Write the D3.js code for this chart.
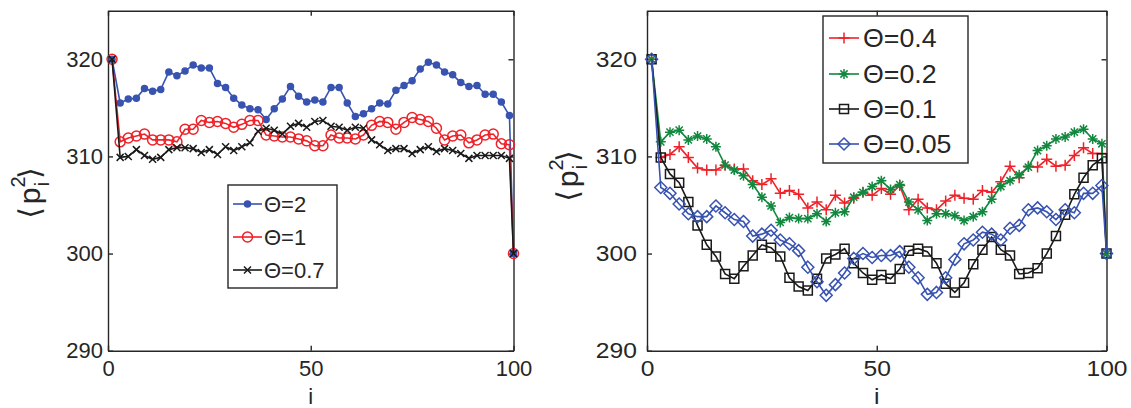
<!DOCTYPE html>
<html>
<head>
<meta charset="utf-8">
<script src="https://cdnjs.cloudflare.com/ajax/libs/d3/7.8.5/d3.min.js"></script>
<style>
  body { margin: 0; background: #fff; }
  text { font-family: "Liberation Sans", Arial, Helvetica, sans-serif; fill: #262626; }
</style>
</head>
<body>
<div id="chart"></div>
<script>
// site index i (markers every other site, plus the last one)
var iValues = [1, 3, 5, 7, 9, 11, 13, 15, 17, 19, 21, 23, 25, 27, 29, 31, 33, 35, 37, 39, 41, 43, 45, 47, 49,
  51, 53, 55, 57, 59, 61, 63, 65, 67, 69, 71, 73, 75, 77, 79, 81, 83, 85, 87, 89, 91, 93, 95, 97, 99, 100];

// left panel
var theta2 = [320, 315.5, 315.9, 316.0, 317.0, 316.7, 316.9, 318.7, 318.3, 318.8, 319.4, 319.1, 319.1, 317.5, 317.1,
  316.0, 315.3, 314.9, 314.8, 313.8, 314.9, 315.9, 317.2, 316.2, 315.6, 315.8, 315.6, 317.1, 317.1, 315.5, 314.1,
  314.4, 314.9, 315.5, 315.4, 316.8, 317.3, 317.8, 319.0, 319.7, 319.4, 318.7, 318.4, 317.6, 317.2, 317.3, 316.4,
  316.4, 315.6, 314.2, 300];
var theta1 = [320, 311.5, 311.9, 312.1, 312.3, 311.7, 311.7, 311.7, 311.5, 312.8, 312.8, 313.7, 313.5, 313.6, 313.4,
  313.0, 313.3, 313.7, 313.7, 312.2, 312.1, 312.0, 312.0, 311.8, 311.6, 311.1, 311.1, 312.2, 311.9, 311.9, 311.8,
  312.2, 313.2, 313.6, 313.5, 312.8, 313.5, 314.0, 313.8, 313.6, 312.9, 311.7, 312.1, 312.2, 311.4, 311.7, 312.2,
  312.3, 311.3, 311.2, 300];
var theta07 = [320, 309.9, 310.0, 310.7, 310.1, 309.7, 309.9, 310.7, 310.9, 310.9, 310.8, 310.4, 310.7, 310.2, 311.0,
  310.6, 311.0, 311.4, 312.6, 312.9, 312.7, 312.3, 313.1, 313.4, 313.0, 313.6, 313.7, 313.1, 313.0, 312.7, 313.0,
  312.9, 311.7, 311.2, 310.6, 310.8, 310.8, 310.3, 310.7, 311.0, 310.5, 310.8, 310.6, 310.3, 309.8, 310.1, 310.1,
  310.1, 310.1, 309.8, 300];

// right panel
var theta04 = [320, 309.9, 310.2, 311.0, 309.9, 308.8, 308.6, 308.6, 309.1, 308.7, 308.7, 307.5, 307.1, 307.7, 306.2,
  306.5, 306.1, 304.7, 305.3, 304.5, 306.0, 305.2, 305.7, 306.3, 306.0, 306.7, 306.1, 307.0, 304.5, 305.6, 304.7,
  304.5, 305.4, 306.0, 305.7, 305.6, 306.5, 306.3, 307.4, 309.0, 307.8, 309.0, 308.9, 309.7, 309.0, 309.1, 310.1,
  310.9, 310.3, 310.3, 300];
var theta02 = [320, 311.5, 312.5, 312.7, 311.7, 312.1, 311.8, 311.0, 309.1, 308.6, 308.0, 307.1, 305.8, 304.9, 303.2,
  303.7, 303.6, 303.6, 304.1, 303.3, 304.2, 304.3, 305.8, 306.3, 306.9, 307.5, 306.6, 307.1, 305.3, 304.5, 303.4,
  304.1, 304.1, 303.9, 303.4, 303.8, 304.3, 305.6, 306.9, 307.5, 308.1, 308.9, 310.6, 311.1, 311.8, 312.0, 312.5,
  312.8, 311.8, 311.3, 300];
var theta01 = [320, 309.9, 308.2, 307.3, 305.3, 302.9, 300.9, 299.7, 297.9, 297.4, 298.7, 299.8, 300.9, 300.6, 299.7,
  297.5, 296.6, 296.2, 297.4, 299.5, 299.9, 300.5, 299.0, 298.0, 297.3, 297.8, 297.4, 298.4, 300.3, 300.5, 300.2,
  299.0, 296.9, 296.0, 297.0, 298.9, 300.4, 301.7, 300.4, 299.8, 297.9, 298.0, 298.5, 300.0, 301.8, 304.0, 306.1,
  307.8, 309.1, 309.8, 300];
var theta005 = [320, 306.8, 306.2, 305.1, 304.1, 303.8, 303.8, 304.9, 304.2, 303.5, 303.3, 301.8, 302.0, 302.4, 301.4,
  301.0, 300.3, 298.6, 297.1, 295.7, 296.8, 298.0, 299.5, 300.0, 299.6, 299.8, 299.8, 300.2, 298.6, 297.5, 295.8,
  296.0, 297.5, 299.4, 301.0, 301.4, 302.2, 302.0, 301.4, 302.6, 302.9, 304.5, 304.7, 304.3, 303.5, 304.5, 304.2,
  306.2, 306.2, 307.0, 300];

var leftLabels = ["\u0398=2", "\u0398=1", "\u0398=0.7"];
var rightLabels = ["\u0398=0.4", "\u0398=0.2", "\u0398=0.1", "\u0398=0.05"];
var xTicks = [0, 50, 100];
var yTicks = [290, 300, 310, 320];

var axisColor = "#262626";
var blue = "#3853b0", red = "#ee2229", black = "#1a1a1a", green = "#12883f";

var svg = d3.select("#chart").append("svg")
  .attr("width", 1131)
  .attr("height", 408);

// marker shapes, centred at 0,0
function markerPath(type, s) {
  if (type === "dot" || type === "circle") {
    var p = d3.path();
    p.arc(0, 0, s, 0, 2 * Math.PI);
    return p.toString();
  }
  if (type === "x") return `M${-s},${-s}L${s},${s}M${-s},${s}L${s},${-s}`;
  if (type === "plus") return `M${-s},0H${s}M0,${-s}V${s}`;
  if (type === "star") {
    var k = s * 0.72;
    return `M${-s},0H${s}M0,${-s}V${s}M${-k},${-k}L${k},${k}M${-k},${k}L${k},${-k}`;
  }
  if (type === "square") return `M${-s},${-s}H${s}V${s}H${-s}Z`;
  if (type === "diamond") return `M0,${-s}L${s},0L0,${s}L${-s},0Z`;
}

function drawPanel(p) {
  var g = svg.append("g");

  var x = d3.scaleLinear().domain([0, 100]).range([p.left, p.right]);
  var y = d3.scaleLinear().domain([290, 325]).range([350.7, 10.7]);

  // axes box + inward ticks on all four sides
  g.append("g")
    .attr("transform", `translate(0, ${y(290)})`)
    .call(d3.axisBottom(x).tickValues(xTicks).tickSizeInner(-5).tickSizeOuter(0).tickPadding(10));
  g.append("g")
    .attr("transform", `translate(0, ${y(325)})`)
    .call(d3.axisTop(x).tickValues(xTicks).tickSizeInner(-5).tickSizeOuter(0).tickFormat(""));
  g.append("g")
    .attr("transform", `translate(${x(0)}, 0)`)
    .call(d3.axisLeft(y).tickValues(yTicks).tickSizeInner(-5).tickSizeOuter(0).tickPadding(p.yPad));
  g.append("g")
    .attr("transform", `translate(${x(100)}, 0)`)
    .call(d3.axisRight(y).tickValues(yTicks).tickSizeInner(-5).tickSizeOuter(0).tickFormat(""));

  g.selectAll(".domain, .tick line").attr("stroke", axisColor).attr("stroke-width", 1.4);
  g.selectAll(".tick text")
    .attr("font-size", 22)
    .attr("font-family", "Liberation Sans, Arial, sans-serif")
    .attr("fill", axisColor)
    .attr("transform", `scale(${p.sx}, 1)`);

  // series: line then markers
  p.series.forEach(function (s) {
    var pts = iValues.map((d, k) => [d, s.values[k]]);
    g.append("path")
      .datum(pts)
      .attr("d", d3.line().x(d => x(d[0])).y(d => y(d[1])))
      .attr("fill", "none")
      .attr("stroke", s.color)
      .attr("stroke-width", 1.6);
    g.append("g")
      .selectAll("path")
      .data(pts)
      .enter()
      .append("path")
      .attr("transform", d => `translate(${x(d[0])}, ${y(d[1])})`)
      .attr("d", markerPath(s.marker, s.size))
      .attr("fill", s.marker === "dot" ? s.color : "none")
      .attr("stroke", s.color)
      .attr("stroke-width", 1.5);
  });

  // x label
  g.append("text")
    .attr("transform", `translate(${x(50)}, 404) scale(${p.sx}, 1)`)
    .attr("text-anchor", "middle")
    .attr("font-size", 22)
    .text("i");

  // y label <p_i^2>
  var t = g.append("text")
    .attr("transform", `translate(${p.yLabX}, ${p.yLabY}) rotate(-90)`)
    .attr("text-anchor", "middle")
    .attr("font-size", 30);
  t.append("tspan").attr("font-family", "DejaVu Sans").attr("font-size", 30).text("\u27E8");
  t.append("tspan").attr("dx", 3).text("p");
  t.append("tspan").attr("font-size", 20).attr("dy", -15).text("2");
  t.append("tspan").attr("font-size", 20).attr("dx", -10).attr("dy", 24).text("i");
  t.append("tspan").attr("font-family", "DejaVu Sans").attr("font-size", 30).attr("dx", 3).attr("dy", -9).text("\u27E9");

  // legend
  var L = p.legend;
  g.append("rect")
    .attr("x", L.x).attr("y", L.y)
    .attr("width", L.w).attr("height", L.h)
    .attr("fill", "#fff")
    .attr("stroke", axisColor)
    .attr("stroke-width", 1.4);
  p.series.forEach(function (s, k) {
    var ly = L.rows[k];
    g.append("line")
      .attr("x1", L.x1).attr("x2", L.x2)
      .attr("y1", ly).attr("y2", ly)
      .attr("stroke", s.color)
      .attr("stroke-width", 1.6);
    g.append("path")
      .attr("transform", `translate(${(L.x1 + L.x2) / 2}, ${ly})`)
      .attr("d", markerPath(s.marker, s.size))
      .attr("fill", s.marker === "dot" ? s.color : "none")
      .attr("stroke", s.color)
      .attr("stroke-width", 1.5);
    g.append("text")
      .attr("transform", `translate(${L.tx}, ${ly + L.fs * 0.36}) scale(${L.sx}, 1)`)
      .attr("font-size", L.fs)
      .text(p.labels[k]);
  });
}

drawPanel({
  left: 108, right: 513.5, sx: 1, yPad: 5, yLabX: 40, yLabY: 193,
  labels: leftLabels,
  series: [
    { values: theta2, color: blue, marker: "dot", size: 3 },
    { values: theta1, color: red, marker: "circle", size: 5 },
    { values: theta07, color: black, marker: "x", size: 3.5 }
  ],
  legend: { x: 228, y: 185, w: 109, h: 103, rows: [204, 237, 270], x1: 233, x2: 262, tx: 264, fs: 22, sx: 1 }
});

drawPanel({
  left: 647, right: 1106.5, sx: 1.12, yPad: 9, yLabX: 578, yLabY: 176,
  labels: rightLabels,
  series: [
    { values: theta04, color: red, marker: "plus", size: 5.5 },
    { values: theta02, color: green, marker: "star", size: 5 },
    { values: theta01, color: black, marker: "square", size: 4.5 },
    { values: theta005, color: blue, marker: "diamond", size: 6 }
  ],
  legend: { x: 823, y: 16, w: 145, h: 147, rows: [38, 74, 109, 144], x1: 829, x2: 859, tx: 863, fs: 25, sx: 1.07 }
});
</script>
</body>
</html>
